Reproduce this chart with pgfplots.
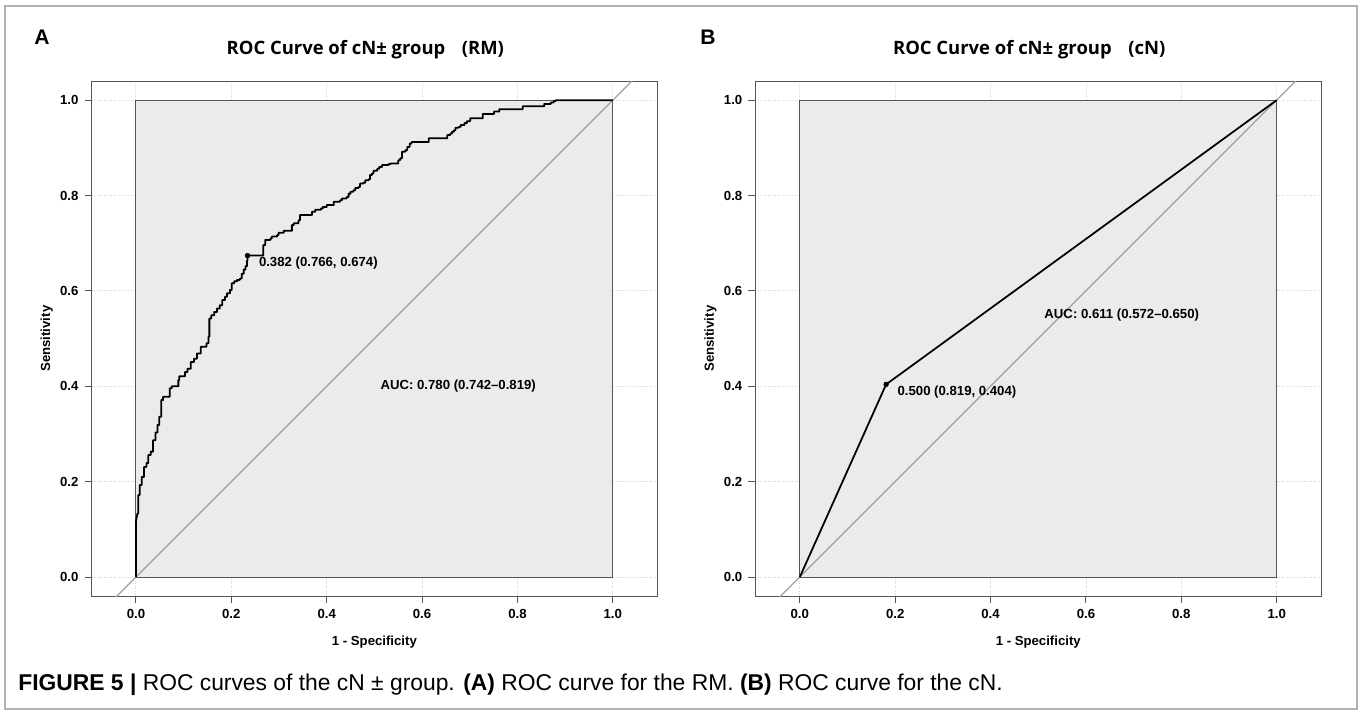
\documentclass[border=0pt]{standalone}
\usepackage{fontspec}
\setmainfont{Liberation Sans}
\newfontfamily\titlefont{Open Sans}
\usepackage{pgfplots}
\pgfplotsset{compat=1.18}

\definecolor{boxfill}{HTML}{EBEBEB}
\definecolor{framecol}{HTML}{555555}
\definecolor{diagcol}{HTML}{A0A0A0}

\pgfplotsset{
  rocaxis/.style={
    scale only axis,
    width=11.314cm, height=10.303cm,
    xmin=-0.093, xmax=1.093, ymin=-0.04, ymax=1.04,
    xtick={0,0.2,...,1.0}, ytick={0,0.2,...,1.0},
    tick align=outside, xtick pos=bottom, ytick pos=left,
    major tick length=0.14cm,
    tick style={framecol, line width=0.6pt},
    axis line style={framecol, line width=0.6pt},
    grid=major,
    major grid style={densely dotted, gray!35, line width=0.5pt},
    ticklabel style={font=\fontsize{7.5}{9}\selectfont\bfseries},
    /pgf/number format/.cd, fixed, fixed zerofill, precision=1, assume math mode=true,
    /pgfplots/.cd,
    xlabel={1 - Specificity}, ylabel={Sensitivity},
    label style={font=\fontsize{7.5}{9}\selectfont\bfseries},
    xlabel style={at={(axis description cs:0.5,-0.089)}, anchor=center},
    ylabel style={at={(axis description cs:-0.0795,0.5)}, anchor=center, rotate=0},
    title style={at={(axis description cs:0.484,1.04)}, anchor=center,
      font=\titlefont\fontsize{10.5}{12}\selectfont\bfseries},
  },
  rocbox/.style={fill=boxfill, draw=framecol, line width=0.6pt},
  diag/.style={diagcol, line width=0.7pt},
  roc/.style={black, line width=1pt, line join=round},
}

\begin{document}
\begin{tikzpicture}[x=0.02cm, y=0.02cm]
\path[use as bounding box] (0,0) rectangle (1362,714);
\draw[gray!60, line width=0.6pt] (5,5) rectangle (1357,708);

% panel A
\node[font=\fontsize{12}{14}\selectfont\bfseries] at (42,677) {A};
\begin{axis}[rocaxis, at={(1.832cm,2.358cm)}, anchor=south west,
  title={ROC Curve of cN± group\hspace{0.9em}(RM)}]
\addplot[rocbox] coordinates {(0,0) (1,0) (1,1) (0,1)} -- cycle;
\addplot[diag] coordinates {(-0.2,-0.2) (1.2,1.2)};
\addplot[roc] coordinates {
(0,0) (0,0.116) (0.003,0.133) (0.005,0.133) (0.005,0.172)
(0.008,0.172) (0.008,0.193) (0.012,0.193) (0.012,0.210)
(0.017,0.210) (0.017,0.231) (0.022,0.231) (0.022,0.239)
(0.026,0.239) (0.026,0.256) (0.031,0.256) (0.031,0.263)
(0.036,0.263) (0.036,0.287) (0.041,0.287) (0.041,0.303)
(0.045,0.303) (0.045,0.319) (0.049,0.319) (0.049,0.336)
(0.053,0.336) (0.053,0.371) (0.057,0.371) (0.057,0.378)
(0.071,0.378) (0.071,0.396) (0.075,0.396) (0.075,0.400)
(0.089,0.400) (0.089,0.413) (0.091,0.413) (0.091,0.421)
(0.103,0.421) (0.103,0.430) (0.108,0.430) (0.108,0.437)
(0.115,0.437) (0.115,0.451) (0.122,0.451) (0.122,0.458)
(0.128,0.458) (0.128,0.469) (0.136,0.469) (0.136,0.483)
(0.148,0.483) (0.148,0.490) (0.152,0.490) (0.152,0.504)
(0.154,0.504) (0.154,0.542) (0.158,0.542) (0.158,0.549)
(0.164,0.549) (0.164,0.556) (0.170,0.556) (0.170,0.563)
(0.176,0.563) (0.176,0.570) (0.181,0.570) (0.181,0.581)
(0.187,0.581) (0.187,0.588) (0.191,0.588) (0.191,0.595)
(0.197,0.595) (0.197,0.602) (0.201,0.602) (0.201,0.616)
(0.206,0.616) (0.206,0.620) (0.212,0.620) (0.212,0.623)
(0.218,0.623) (0.218,0.626) (0.222,0.626) (0.222,0.636)
(0.226,0.636) (0.226,0.645) (0.230,0.645) (0.230,0.652)
(0.233,0.652) (0.233,0.664) (0.234,0.664) (0.234,0.674)
(0.267,0.674) (0.267,0.696) (0.271,0.696) (0.271,0.707)
(0.282,0.707) (0.282,0.710) (0.285,0.710) (0.285,0.714)
(0.296,0.714) (0.296,0.717) (0.299,0.717) (0.299,0.722)
(0.310,0.722) (0.310,0.726) (0.327,0.726) (0.327,0.738)
(0.331,0.738) (0.331,0.742) (0.341,0.742) (0.341,0.748)
(0.344,0.748) (0.344,0.759) (0.369,0.759) (0.369,0.766)
(0.376,0.766) (0.376,0.770) (0.388,0.770) (0.388,0.773)
(0.392,0.773) (0.392,0.776) (0.400,0.776) (0.400,0.780)
(0.415,0.780) (0.415,0.787) (0.428,0.787) (0.428,0.790)
(0.432,0.790) (0.432,0.794) (0.442,0.794) (0.442,0.797)
(0.446,0.797) (0.446,0.804) (0.450,0.804) (0.450,0.808)
(0.456,0.808) (0.456,0.811) (0.460,0.811) (0.460,0.816)
(0.467,0.816) (0.467,0.818) (0.470,0.818) (0.470,0.825)
(0.477,0.825) (0.477,0.827) (0.481,0.827) (0.481,0.832)
(0.488,0.832) (0.488,0.834) (0.491,0.834) (0.491,0.843)
(0.495,0.843) (0.495,0.846) (0.498,0.846) (0.498,0.852)
(0.506,0.852) (0.506,0.856) (0.510,0.856) (0.510,0.860)
(0.516,0.860) (0.516,0.864) (0.530,0.864) (0.530,0.866)
(0.534,0.866) (0.534,0.867) (0.550,0.867) (0.550,0.874)
(0.554,0.874) (0.554,0.878) (0.558,0.878) (0.558,0.892)
(0.565,0.892) (0.565,0.895) (0.569,0.895) (0.569,0.902)
(0.574,0.902) (0.574,0.909) (0.578,0.909) (0.578,0.912)
(0.614,0.912) (0.614,0.920) (0.653,0.920) (0.653,0.927)
(0.659,0.927) (0.659,0.930) (0.663,0.930) (0.663,0.934)
(0.667,0.934) (0.667,0.937) (0.670,0.937) (0.670,0.942)
(0.677,0.942) (0.677,0.944) (0.681,0.944) (0.681,0.948)
(0.689,0.948) (0.689,0.952) (0.694,0.952) (0.694,0.956)
(0.701,0.956) (0.701,0.962) (0.727,0.962) (0.727,0.971)
(0.751,0.971) (0.751,0.976) (0.762,0.976) (0.762,0.981)
(0.811,0.981) (0.811,0.987) (0.856,0.987) (0.856,0.992)
(0.870,0.992) (0.870,0.995) (0.876,0.995) (0.876,0.998)
(0.880,0.998) (0.880,1.0) (1,1)
};
\addplot[only marks, mark=*, mark size=1.3pt, black] coordinates {(0.234,0.674)}
  node[anchor=west, xshift=3pt, yshift=-4.5pt, font=\fontsize{7.5}{9}\selectfont\bfseries] {0.382 (0.766, 0.674)};
\node[anchor=west, font=\fontsize{7.5}{9}\selectfont\bfseries] at (axis cs:0.5,0.40) {AUC: 0.780 (0.742–0.819)};
\end{axis}

% panel B
\node[font=\fontsize{12}{14}\selectfont\bfseries] at (708,677) {B};
\begin{axis}[rocaxis, at={(15.112cm,2.358cm)}, anchor=south west,
  title={ROC Curve of cN± group\hspace{0.9em}(cN)}]
\addplot[rocbox] coordinates {(0,0) (1,0) (1,1) (0,1)} -- cycle;
\addplot[diag] coordinates {(-0.2,-0.2) (1.2,1.2)};
\addplot[roc] coordinates {(0,0) (0.181,0.404) (1,1)};
\addplot[only marks, mark=*, mark size=1.3pt, black] coordinates {(0.181,0.404)}
  node[anchor=west, xshift=3pt, yshift=-4.5pt, font=\fontsize{7.5}{9}\selectfont\bfseries] {0.500 (0.819, 0.404)};
\node[anchor=west, font=\fontsize{7.5}{9}\selectfont\bfseries] at (axis cs:0.5,0.55) {AUC: 0.611 (0.572–0.650)};
\end{axis}

% caption
\node[anchor=west, font=\fontsize{13}{15}\selectfont, inner sep=0pt] at (18,29)
  {\textbf{FIGURE 5 |} ROC curves of the cN ± group. \textbf{(A)} ROC curve for the RM. \textbf{(B)} ROC curve for the cN.};
\end{tikzpicture}
\end{document}
